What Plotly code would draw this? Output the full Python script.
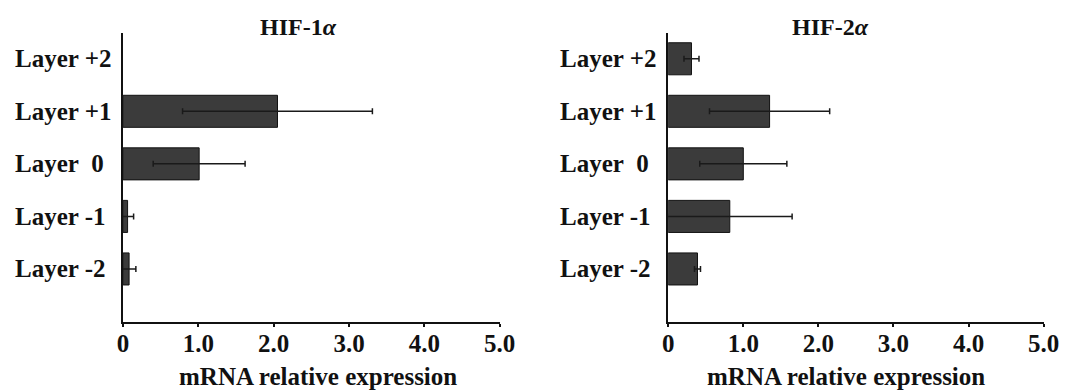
import plotly.graph_objects as go

layers = ["Layer -2", "Layer -1", "Layer  0", "Layer +1", "Layer +2"]
layer_labels = ["Layer -2", "Layer -1", "Layer\u00a0\u00a00", "Layer +1", "Layer +2"]

hif1_values = [0.08, 0.06, 1.01, 2.05, None]
hif1_errors = [0.09, 0.08, 0.61, 1.26, None]

hif2_values = [0.39, 0.82, 1.00, 1.35, 0.31]
hif2_errors = [0.04, 0.83, 0.58, 0.80, 0.10]

x_tickvals = [0, 1, 2, 3, 4, 5]
x_ticktext = ["0", "1.0", "2.0", "3.0", "4.0", "5.0"]

titles = ["HIF-1<i>α</i>", "HIF-2<i>α</i>"]
x_title = "mRNA relative expression"

FONT = "Liberation Serif"
BAR = "#3b3b3b"
INK = "#111111"

fig = go.Figure()

for i, (vals, errs) in enumerate([(hif1_values, hif1_errors), (hif2_values, hif2_errors)]):
    xa = "x" if i == 0 else "x2"
    ya = "y" if i == 0 else "y2"
    fig.add_trace(go.Bar(
        x=vals, y=layers, orientation="h",
        marker=dict(color=BAR, line=dict(color=INK, width=1)),
        width=0.61,
        error_x=dict(type="data", array=errs, visible=True, color="#1a1a1a", thickness=1.5, width=3),
        xaxis=xa, yaxis=ya, showlegend=False,
    ))

axis_x_common = dict(
    range=[0, 5], tickvals=x_tickvals, ticktext=["<b>%s</b>" % t for t in x_ticktext],
    showline=True, linecolor=INK, linewidth=2,
    ticks="outside", ticklen=3, tickwidth=1.5, tickcolor=INK,
    ticklabelstandoff=-5,
    showgrid=False, zeroline=False,
    tickfont=dict(family=FONT, size=25, color=INK),
)
axis_y_common = dict(
    type="category", categoryorder="array", categoryarray=layers,
    range=[-1, 4.5], showline=True, linecolor=INK, linewidth=2,
    showticklabels=False, ticks="", showgrid=False, zeroline=False,
)

ydom = [(392 - 321.5) / 392, (392 - 32.5) / 392]
fig.update_layout(
    width=1078, height=392,
    margin=dict(l=0, r=0, t=0, b=0),
    paper_bgcolor="white", plot_bgcolor="white",
    xaxis=dict(domain=[119.5 / 1078, 504 / 1078], anchor="y", **axis_x_common),
    yaxis=dict(domain=ydom, anchor="x", **axis_y_common),
    xaxis2=dict(domain=[676 / 1078, 1059.3 / 1078], anchor="y2", **axis_x_common),
    yaxis2=dict(domain=ydom, anchor="x2", **axis_y_common),
)

annotations = []
label_x = [7 / 1078, 563 / 1078]
title_x = [299 / 1078, 842 / 1078]
xtitle_x = [318 / 1078, 858 / 1078]
for i in range(2):
    ya = "y" if i == 0 else "y2"
    for cat, lab in zip(layers, layer_labels):
        annotations.append(dict(
            x=label_x[i], xref="paper", y=cat, yref=ya,
            text="<b>%s</b>" % lab, showarrow=False,
            xanchor="left", yanchor="middle",
            font=dict(family=FONT, size=25, color=INK),
        ))
    annotations.append(dict(
        x=title_x[i], xref="paper", y=1 - 27 / 392, yref="paper",
        text="<b>%s</b>" % titles[i], showarrow=False,
        xanchor="center", yanchor="middle",
        font=dict(family=FONT, size=24, color=INK),
    ))
    annotations.append(dict(
        x=xtitle_x[i], xref="paper", y=0, yref="paper",
        text="<b>%s</b>" % x_title, showarrow=False,
        xanchor="center", yanchor="bottom",
        font=dict(family=FONT, size=25, color=INK),
    ))
fig.update_layout(annotations=annotations)

fig.write_html("out.html")
